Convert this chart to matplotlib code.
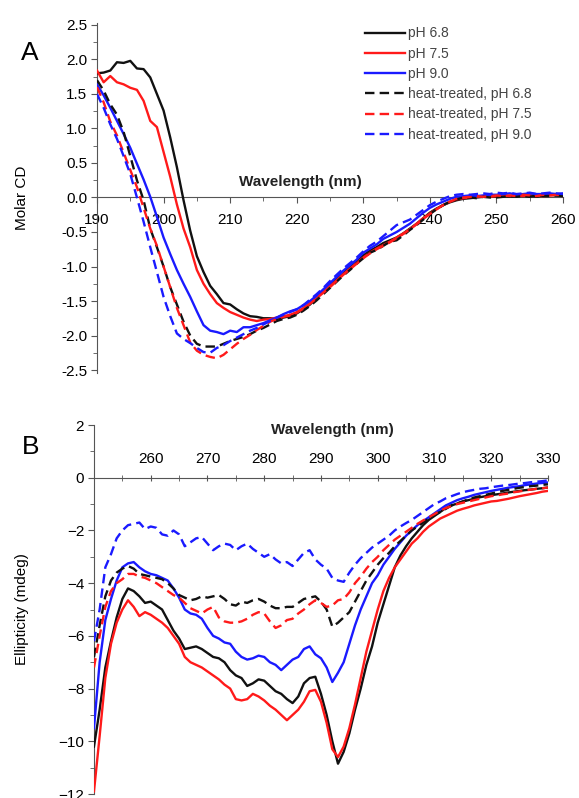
import numpy as np
import matplotlib
matplotlib.use('Agg')
import matplotlib.pyplot as plt
from matplotlib.ticker import MultipleLocator

plt.rcParams['font.family'] = ['Liberation Sans', 'DejaVu Sans']

# ---- panel A: far-UV CD (molar CD vs wavelength) ----
wl_a = np.arange(190, 261, 1)

cd_ph68 = [1.80, 1.81, 1.84, 1.96, 1.95, 1.98, 1.87, 1.86, 1.74, 1.50,
           1.26, 0.87, 0.44, -0.04, -0.48, -0.85, -1.08, -1.28, -1.40, -1.53,
           -1.55, -1.62, -1.68, -1.72, -1.73, -1.75, -1.75, -1.76, -1.74, -1.72,
           -1.68, -1.62, -1.55, -1.45, -1.36, -1.27, -1.18, -1.10, -1.01, -0.93,
           -0.84, -0.77, -0.72, -0.66, -0.62, -0.58, -0.52, -0.45, -0.38, -0.30,
           -0.22, -0.16, -0.11, -0.07, -0.04, -0.02, -0.01, 0.00, 0.01, 0.01,
           0.01, 0.02, 0.01, 0.03, 0.02, 0.03, 0.01, 0.03, 0.04, 0.03, 0.03]
cd_ph75 = [1.84, 1.67, 1.76, 1.67, 1.64, 1.59, 1.56, 1.40, 1.11, 1.02,
           0.66, 0.30, -0.10, -0.45, -0.72, -1.05, -1.25, -1.40, -1.53, -1.60,
           -1.66, -1.70, -1.74, -1.77, -1.79, -1.77, -1.76, -1.74, -1.72, -1.70,
           -1.66, -1.60, -1.53, -1.44, -1.36, -1.28, -1.20, -1.11, -1.03, -0.95,
           -0.87, -0.80, -0.74, -0.69, -0.64, -0.58, -0.52, -0.46, -0.38, -0.30,
           -0.23, -0.17, -0.11, -0.06, -0.03, -0.01, 0.00, 0.01, 0.02, 0.01,
           0.02, 0.03, 0.02, 0.03, 0.02, 0.04, 0.03, 0.02, 0.03, 0.04, 0.02]
cd_ph90 = [1.64, 1.48, 1.30, 1.11, 0.92, 0.72, 0.49, 0.26, 0.01, -0.28,
           -0.58, -0.82, -1.05, -1.25, -1.44, -1.65, -1.85, -1.93, -1.95, -1.98,
           -1.93, -1.95, -1.88, -1.88, -1.85, -1.82, -1.78, -1.74, -1.69, -1.65,
           -1.62, -1.56, -1.50, -1.42, -1.33, -1.24, -1.15, -1.06, -0.98, -0.90,
           -0.80, -0.74, -0.68, -0.60, -0.55, -0.50, -0.44, -0.38, -0.30, -0.22,
           -0.15, -0.10, -0.06, -0.02, 0.01, 0.02, 0.03, 0.02, 0.03, 0.04,
           0.04, 0.05, 0.06, 0.04, 0.05, 0.06, 0.05, 0.05, 0.06, 0.05, 0.06]
cd_heat68 = [1.70, 1.55, 1.35, 1.20, 0.95, 0.60, 0.25, -0.04, -0.45, -0.72,
             -1.00, -1.30, -1.55, -1.80, -2.00, -2.12, -2.16, -2.16, -2.16, -2.12,
             -2.08, -2.05, -2.02, -1.98, -1.93, -1.89, -1.84, -1.79, -1.76, -1.74,
             -1.70, -1.64, -1.57, -1.49, -1.40, -1.31, -1.22, -1.13, -1.05, -0.96,
             -0.88, -0.80, -0.76, -0.70, -0.64, -0.62, -0.55, -0.47, -0.40, -0.32,
             -0.24, -0.17, -0.11, -0.06, -0.03, 0.00, 0.00, -0.01, 0.01, 0.00,
             0.00, 0.01, 0.02, 0.01, 0.02, 0.01, 0.03, 0.02, 0.02, 0.03, 0.02]
cd_heat75 = [1.60, 1.38, 1.10, 0.90, 0.65, 0.40, 0.15, -0.15, -0.45, -0.70,
             -1.00, -1.30, -1.60, -1.85, -2.10, -2.22, -2.28, -2.31, -2.33, -2.28,
             -2.20, -2.12, -2.05, -1.99, -1.92, -1.86, -1.80, -1.76, -1.73, -1.71,
             -1.67, -1.61, -1.54, -1.46, -1.38, -1.30, -1.21, -1.12, -1.04, -0.96,
             -0.88, -0.81, -0.75, -0.70, -0.65, -0.59, -0.53, -0.46, -0.39, -0.31,
             -0.24, -0.17, -0.11, -0.06, -0.02, 0.00, 0.01, 0.02, 0.01, 0.02,
             0.03, 0.02, 0.03, 0.02, 0.04, 0.03, 0.02, 0.04, 0.03, 0.04, 0.03]
cd_heat90 = [1.50, 1.30, 1.06, 0.85, 0.60, 0.34, 0.00, -0.35, -0.72, -1.08,
             -1.44, -1.72, -1.97, -2.05, -2.11, -2.18, -2.24, -2.25, -2.18, -2.14,
             -2.08, -2.03, -1.98, -1.93, -1.89, -1.84, -1.79, -1.74, -1.70, -1.66,
             -1.62, -1.56, -1.48, -1.40, -1.31, -1.21, -1.12, -1.03, -0.95, -0.87,
             -0.78, -0.70, -0.64, -0.56, -0.48, -0.40, -0.36, -0.32, -0.25, -0.18,
             -0.11, -0.06, -0.02, 0.02, 0.04, 0.05, 0.04, 0.05, 0.06, 0.05,
             0.07, 0.06, 0.07, 0.05, 0.06, 0.07, 0.05, 0.06, 0.07, 0.06, 0.05]

# ---- panel B: near-UV CD (ellipticity vs wavelength) ----
wl_b = np.arange(250, 331, 1)

el_ph68 = [-10.2, -8.8, -7.2, -6.2, -5.3, -4.6, -4.2, -4.3, -4.5, -4.75,
           -4.7, -4.85, -5.0, -5.4, -5.8, -6.1, -6.5, -6.45, -6.4, -6.5,
           -6.65, -6.8, -6.85, -7.0, -7.3, -7.5, -7.6, -7.9, -7.8, -7.65,
           -7.7, -7.9, -8.1, -8.2, -8.4, -8.55, -8.3, -7.8, -7.6, -7.55,
           -8.2, -9.0, -10.0, -10.85, -10.4, -9.7, -8.8, -8.0, -7.1, -6.4,
           -5.5, -4.8, -4.1, -3.4, -2.95, -2.6, -2.3, -2.05, -1.8, -1.6,
           -1.45, -1.3, -1.15, -1.05, -0.98, -0.9, -0.85, -0.8, -0.74, -0.7,
           -0.66, -0.63, -0.6, -0.56, -0.53, -0.5, -0.47, -0.45, -0.42, -0.4, -0.37]
el_ph75 = [-11.9, -9.8, -7.6, -6.3, -5.5, -5.0, -4.65, -4.9, -5.25, -5.1,
           -5.2, -5.35, -5.5, -5.7, -6.0, -6.3, -6.8, -7.0, -7.1, -7.2,
           -7.35, -7.5, -7.65, -7.85, -8.0, -8.4, -8.45, -8.4, -8.2, -8.3,
           -8.45, -8.65, -8.8, -9.0, -9.2, -9.0, -8.8, -8.5, -8.1, -8.05,
           -8.5, -9.3, -10.3, -10.6, -10.2, -9.5, -8.6, -7.6, -6.6, -5.8,
           -5.0, -4.3, -3.8, -3.4, -3.1, -2.8, -2.5, -2.3, -2.05, -1.85,
           -1.7, -1.55, -1.45, -1.35, -1.25, -1.18, -1.12, -1.05, -1.0, -0.95,
           -0.9, -0.88, -0.84, -0.8, -0.75, -0.7, -0.66, -0.62, -0.58, -0.53, -0.5]
el_ph90 = [-9.5, -7.0, -5.4, -4.6, -3.9, -3.4, -3.25, -3.2, -3.4, -3.55,
           -3.65, -3.7, -3.8, -3.9, -4.2, -4.55, -5.0, -5.15, -5.2, -5.35,
           -5.7, -6.0, -6.1, -6.25, -6.3, -6.6, -6.8, -6.9, -6.85, -6.75,
           -6.8, -7.0, -7.1, -7.3, -7.1, -6.9, -6.8, -6.5, -6.4, -6.7,
           -6.85, -7.2, -7.75, -7.4, -7.0, -6.3, -5.6, -5.0, -4.5, -4.0,
           -3.7, -3.3, -3.0, -2.7, -2.45, -2.2, -2.0, -1.8, -1.65, -1.5,
           -1.35, -1.2, -1.05, -0.95, -0.85, -0.78, -0.72, -0.65, -0.6, -0.55,
           -0.5, -0.46, -0.42, -0.38, -0.35, -0.32, -0.28, -0.25, -0.22, -0.2, -0.18]
el_heat68 = [-6.8, -5.6, -4.5, -3.9, -3.6, -3.45, -3.35, -3.45, -3.65, -3.7,
             -3.75, -3.8, -3.85, -4.0, -4.2, -4.45, -4.55, -4.65, -4.6, -4.5,
             -4.55, -4.5, -4.45, -4.6, -4.8, -4.85, -4.7, -4.75, -4.65, -4.6,
             -4.7, -4.85, -4.95, -4.95, -4.9, -4.9, -4.75, -4.6, -4.55, -4.5,
             -4.7, -5.0, -5.65, -5.5, -5.3, -5.1, -4.7, -4.3, -3.9, -3.6,
             -3.3, -3.05, -2.85, -2.6, -2.4, -2.2, -2.0, -1.85, -1.7, -1.55,
             -1.4, -1.3, -1.18, -1.05, -0.98, -0.9, -0.82, -0.75, -0.7, -0.65,
             -0.6, -0.55, -0.5, -0.46, -0.42, -0.38, -0.35, -0.32, -0.3, -0.27, -0.25]
el_heat75 = [-7.2, -6.0, -4.9, -4.3, -4.0, -3.85, -3.65, -3.65, -3.75, -3.8,
             -3.9, -4.0, -4.15, -4.3, -4.45, -4.55, -4.75, -4.95, -5.05, -5.15,
             -5.0, -4.9, -5.3, -5.45, -5.5, -5.5, -5.45, -5.35, -5.2, -5.1,
             -5.15, -5.45, -5.7, -5.6, -5.4, -5.35, -5.15, -5.0, -4.8, -4.65,
             -4.75, -4.9, -4.85, -4.65, -4.6, -4.35, -4.0, -3.75, -3.45, -3.2,
             -3.0, -2.75, -2.55, -2.35, -2.2, -2.05, -1.9, -1.75, -1.62, -1.5,
             -1.38, -1.25, -1.15, -1.08, -1.0, -0.95, -0.9, -0.85, -0.8, -0.75,
             -0.7, -0.67, -0.63, -0.6, -0.55, -0.52, -0.48, -0.45, -0.42, -0.4, -0.37]
el_heat90 = [-6.2, -5.0, -3.4, -2.9, -2.3, -2.0, -1.8, -1.75, -1.7, -1.95,
             -1.85, -1.9, -2.15, -2.2, -2.0, -2.15, -2.6, -2.45, -2.3, -2.25,
             -2.5, -2.75, -2.6, -2.5, -2.55, -2.75, -2.6, -2.5, -2.7, -2.85,
             -3.0, -2.9, -3.1, -3.25, -3.2, -3.35, -3.1, -2.85, -2.75, -3.1,
             -3.3, -3.45, -3.8, -3.9, -3.95, -3.6, -3.3, -3.05, -2.85, -2.65,
             -2.5, -2.35, -2.2, -2.0, -1.85, -1.72, -1.6, -1.45, -1.3, -1.15,
             -1.0, -0.9, -0.78, -0.7, -0.62, -0.55, -0.5, -0.46, -0.42, -0.4,
             -0.36, -0.33, -0.3, -0.28, -0.25, -0.22, -0.2, -0.17, -0.15, -0.13, -0.1]

labels = ['pH 6.8', 'pH 7.5', 'pH 9.0',
          'heat-treated, pH 6.8', 'heat-treated, pH 7.5', 'heat-treated, pH 9.0']
colors = ['#111111', '#ff1a1a', '#1a1aff']

fig = plt.figure(figsize=(5.79, 7.98), dpi=100)
ax1 = fig.add_axes([0.1675, 0.532, 0.805, 0.4393])
ax2 = fig.add_axes([0.1623, 0.005, 0.7841, 0.4624])

dash = (4, 2.2)
series_a = [cd_ph68, cd_ph75, cd_ph90, cd_heat68, cd_heat75, cd_heat90]
for i, ys in enumerate(series_a):
    ln, = ax1.plot(wl_a, ys, color=colors[i % 3], lw=1.7, label=labels[i], zorder=3)
    if i >= 3:
        ln.set_dashes(dash)

series_b = [el_ph68, el_ph75, el_ph90, el_heat68, el_heat75, el_heat90]
for i, ys in enumerate(series_b):
    ln, = ax2.plot(wl_b, ys, color=colors[i % 3], lw=1.7, zorder=3)
    if i >= 3:
        ln.set_dashes(dash)

spine_col = '#555555'

# panel A axes
ax1.set_xlim(190, 260)
ax1.set_ylim(-2.55, 2.53)
ax1.spines['top'].set_visible(False)
ax1.spines['right'].set_visible(False)
ax1.spines['bottom'].set_position(('data', 0))
for s in ('left', 'bottom'):
    ax1.spines[s].set_color(spine_col)
ax1.xaxis.set_major_locator(MultipleLocator(10))
ax1.xaxis.set_minor_locator(MultipleLocator(5))
ax1.yaxis.set_major_locator(MultipleLocator(0.5))
ax1.yaxis.set_minor_locator(MultipleLocator(0.25))
ax1.yaxis.set_major_formatter(plt.FormatStrFormatter('%.1f'))
ax1.tick_params(axis='x', which='major', length=4, pad=7, labelsize=11, color=spine_col)
ax1.tick_params(axis='x', which='minor', length=3, color=spine_col)
ax1.tick_params(axis='y', which='major', length=4, pad=3, labelsize=11, color=spine_col)
ax1.tick_params(axis='y', which='minor', length=3, color=spine_col)
ax1.set_ylabel('Molar CD', fontsize=11)
ax1.yaxis.set_label_coords(-0.146, 0.5)
ax1.text(0.436, 0.22, 'Wavelength (nm)', transform=ax1.get_yaxis_transform(),
         ha='center', va='center', fontsize=11, fontweight='bold', color='#222222')
ax1.legend(loc='upper left', bbox_to_anchor=(0.575, 0.99), frameon=False,
           fontsize=10, handlelength=2.9, handletextpad=0.2, labelspacing=0.45,
           borderpad=0, borderaxespad=0, labelcolor='#444444')

# panel B axes
ax2.set_xlim(250, 330)
ax2.set_ylim(-12, 2)
ax2.spines['bottom'].set_visible(False)
ax2.spines['right'].set_visible(False)
ax2.spines['top'].set_position(('data', 0))
for s in ('left', 'top'):
    ax2.spines[s].set_color(spine_col)
ax2.xaxis.tick_top()
ax2.xaxis.set_minor_locator(MultipleLocator(5))
ax2.set_xticks(np.arange(260, 331, 10))
ax2.yaxis.set_major_locator(MultipleLocator(2))
ax2.yaxis.set_minor_locator(MultipleLocator(1))
ax2.tick_params(axis='x', which='major', direction='inout', length=5, pad=6, labelsize=11, color=spine_col)
ax2.tick_params(axis='x', which='minor', direction='inout', length=4, color=spine_col)
ax2.tick_params(axis='y', which='major', length=4, pad=3, labelsize=11, color=spine_col)
ax2.tick_params(axis='y', which='minor', length=3, color=spine_col)
ax2.set_ylabel('Ellipticity (mdeg)', fontsize=11)
ax2.yaxis.set_label_coords(-0.143, 0.5)
ax2.text(0.526, 0.986, 'Wavelength (nm)', transform=ax2.transAxes,
         ha='center', va='center', fontsize=11, fontweight='bold', color='#222222')

fig.text(0.052, 0.934, 'A', fontsize=19, ha='center', va='center')
fig.text(0.053, 0.44, 'B', fontsize=19, ha='center', va='center')

fig.savefig('out.png', dpi=100)
